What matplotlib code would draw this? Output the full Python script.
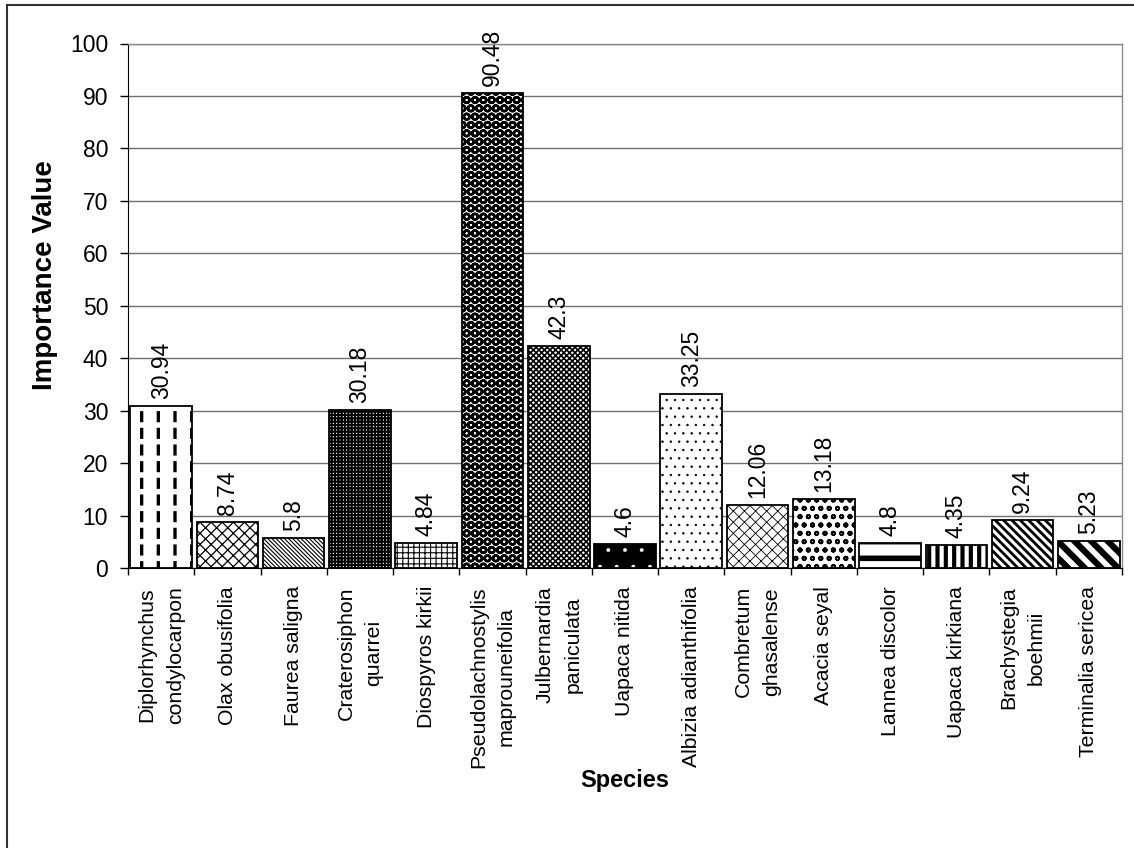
import matplotlib
matplotlib.use("Agg")
import matplotlib.pyplot as plt
from matplotlib.patches import Rectangle
from matplotlib.ticker import FixedLocator, NullFormatter
import numpy as np

plt.rcParams["font.family"] = ["Liberation Sans", "DejaVu Sans"]

species = [
    "Diplorhynchus\ncondylocarpon", "Olax obusifolia", "Faurea saligna",
    "Craterosiphon\nquarrei", "Diospyros kirkii",
    "Pseudolachnostylis\nmaprouneifolia", "Julbernardia\npaniculata",
    "Uapaca nitida", "Albizia adianthifolia", "Combretum\nghasalense",
    "Acacia seyal", "Lannea discolor", "Uapaca kirkiana",
    "Brachystegia\nboehmii", "Terminalia sericea",
]
importance = [30.94, 8.74, 5.8, 30.18, 4.84, 90.48, 42.3, 4.6, 33.25,
              12.06, 13.18, 4.8, 4.35, 9.24, 5.23]
value_labels = ["30.94", "8.74", "5.8", "30.18", "4.84", "90.48", "42.3",
                "4.6", "33.25", "12.06", "13.18", "4.8", "4.35", "9.24", "5.23"]
y_ticks = [0, 10, 20, 30, 40, 50, 60, 70, 80, 90, 100]

# fill layers per bar: list of (hatch, hatch line width, face colour, hatch colour)
patterns = [
    [("|", 2.4, "white", "black"), ("-", 4.0, "none", "white")],
    [("xxx", 0.9, "white", "black")],
    [("\\" * 8, 0.8, "white", "black")],
    [("+++++", 1.5, "white", "black")],
    [("+++", 0.8, "white", "black")],
    [("OO", 1.8, "white", "black")],
    [("xxxxxx", 1.2, "white", "black")],
    [(".", 0.3, "black", "white")],
    [("..", 0.5, "white", "black")],
    [("xxx", 0.6, "white", "black")],
    [("oo", 1.3, "white", "black")],
    [("-", 4.0, "white", "black")],
    [("||", 3.0, "white", "black")],
    [("\\" * 4, 2.0, "white", "black")],
    [("\\" * 2, 4.5, "white", "black")],
]

W, H, DPI = 1134, 848, 100
fig = plt.figure(figsize=(W / DPI, H / DPI), dpi=DPI)
fig.patch.set_facecolor("white")

# outer chart border (open on the right and bottom)
fig.add_artist(Rectangle((7 / W, -0.05), 1.1, 1 - 5 / H + 0.05,
                         transform=fig.transFigure, fill=False,
                         edgecolor="#333333", linewidth=1.5))

left, right, top, bottom = 128, 1122, 43.5, 568
ax = fig.add_axes([left / W, 1 - bottom / H, (right - left) / W, (bottom - top) / H])

x = np.arange(len(species))
BAR_W = 0.93
for i, (val, layers) in enumerate(zip(importance, patterns)):
    for k, (hatch, hlw, face, hcol) in enumerate(layers):
        with plt.rc_context({"hatch.linewidth": hlw}):
            fill = ax.bar(x[i], val, width=BAR_W, color=face, edgecolor=hcol,
                          hatch=hatch, linewidth=0, zorder=2 + 0.1 * k)
        for p in fill:
            if hasattr(p, "set_hatch_linewidth"):
                p.set_hatch_linewidth(hlw)
    ax.bar(x[i], val, width=BAR_W, fill=False, edgecolor="black",
           linewidth=1.3, zorder=3)

for i, (val, txt) in enumerate(zip(importance, value_labels)):
    ax.annotate(txt, (x[i], val), xytext=(0, 5), textcoords="offset points",
                rotation=90, ha="center", va="bottom", fontsize=16.5)

ax.set_xlim(-0.5, len(species) - 0.5)
ax.set_ylim(0, 100)
ax.set_yticks(y_ticks)
ax.tick_params(axis="y", labelsize=16.5, length=5.8, width=1, direction="out", pad=8.5)

ax.set_xticks(x)
ax.set_xticklabels(species, rotation=90, fontsize=15.3, linespacing=1.6,
                   ha="center", va="top", multialignment="center")
ax.tick_params(axis="x", which="major", length=0, pad=13)
ax.xaxis.set_minor_locator(FixedLocator(np.arange(len(species) + 1) - 0.5))
ax.xaxis.set_minor_formatter(NullFormatter())
ax.tick_params(axis="x", which="minor", length=5, width=1, direction="out")

ax.yaxis.grid(True, color="#707070", linewidth=1.0, zorder=0)
ax.set_axisbelow(True)
for side in ("top", "right"):
    ax.spines[side].set_color("#8a8a8a")
    ax.spines[side].set_linewidth(1.0)
ax.spines["left"].set_color("black")
ax.spines["bottom"].set_color("black")

fig.text(45 / W, 1 - 275 / H, "Importance Value", rotation=90, ha="center",
         va="center", fontsize=20, fontweight="bold")
fig.text(625 / W, 1 - 781 / H, "Species", ha="center", va="center",
         fontsize=17, fontweight="bold")

fig.savefig("out.png", dpi=DPI, facecolor="white")
